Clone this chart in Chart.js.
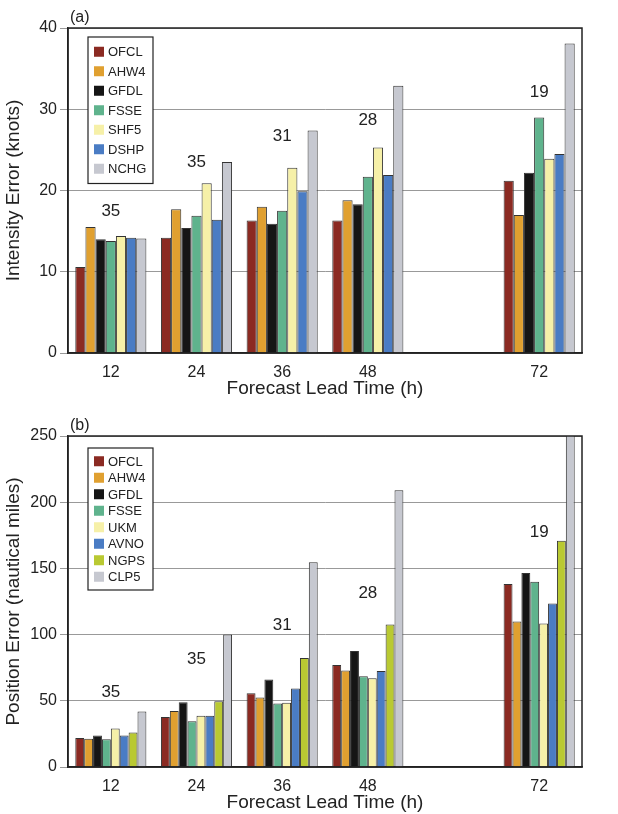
<!DOCTYPE html>
<html>
<head>
<meta charset="utf-8">
<script src="https://cdn.jsdelivr.net/npm/chart.js@4"></script>
<style>
  body { margin: 0; background: #fff; }
  .box { position: absolute; left: 0; width: 618px; }
</style>
</head>
<body>
<div class="box" style="top:0;height:400px"><canvas id="intChart"></canvas></div>
<div class="box" style="top:400px;height:414px"><canvas id="posChart"></canvas></div>
<script>
// Categories (lead time, 60 h is empty)
const leadTimes = ['12', '24', '36', '48', '', '72'];

// (a) intensity error, knots
const intOFCL = [10.6, 14.2, 16.3, 16.3, null, 21.2];
const intAHW4 = [15.5, 17.7, 18.0, 18.8, null, 17.0];
const intGFDL = [14.0, 15.4, 15.9, 18.3, null, 22.2];
const intFSSE = [13.8, 16.9, 17.5, 21.7, null, 29.0];
const intSHF5 = [14.4, 20.9, 22.8, 25.3, null, 23.9];
const intDSHP = [14.2, 16.4, 19.9, 21.9, null, 24.5];
const intNCHG = [14.1, 23.5, 27.4, 32.9, null, 38.1];

// (b) position error, nautical miles
const posOFCL = [21.9, 37.8, 55.7, 77.0, null, 138.3];
const posAHW4 = [21.4, 42.3, 52.4, 72.8, null, 109.8];
const posGFDL = [23.7, 48.9, 66.0, 87.7, null, 146.6];
const posFSSE = [20.9, 34.5, 47.9, 68.5, null, 140.0];
const posUKM  = [29.0, 38.8, 48.6, 67.0, null, 108.3];
const posAVNO = [23.7, 38.8, 59.2, 72.5, null, 123.4];
const posNGPS = [26.0, 49.6, 82.4, 107.6, null, 170.8];
const posCLP5 = [42.0, 100.0, 154.7, 209.0, null, 255.0];

// sample counts shown above each group
const caseCounts = ['35', '35', '31', '28', '', '19'];
const intCountY = [17.4, 23.5, 26.7, 28.6, null, 32.1];
const posCountY = [56.7, 81, 107, 131, null, 177.5];

const C = {
  OFCL: '#8b2a22', AHW4: '#e0a030', GFDL: '#151515', FSSE: '#5fb38d',
  SHF5: '#f6f0a8', DSHP: '#4a7cc4', NCHG: '#c6c8d0', NGPS: '#b9c932'
};
const FONT = 'Liberation Sans, Arial, sans-serif';

function ds(label, data, color) {
  return { label, data, backgroundColor: color, borderColor: '#333', borderWidth: 1,
           barPercentage: 1.0, categoryPercentage: 0.83 };
}

// legend box + counts + panel letter + frame
const extras = {
  id: 'extras',
  afterDraw(chart, args, opts) {
    const { ctx, chartArea: a, scales } = chart;
    ctx.save();
    ctx.strokeStyle = '#222';
    ctx.lineWidth = 1.5;
    ctx.strokeRect(a.left, a.top, a.right - a.left, a.bottom - a.top);
    ctx.fillStyle = '#222';
    ctx.font = '16px ' + FONT;
    ctx.textAlign = 'left';
    ctx.textBaseline = 'bottom';
    ctx.fillText(opts.letter, a.left + 2, a.top - 2);
    ctx.font = '17px ' + FONT;
    ctx.textAlign = 'center';
    ctx.textBaseline = 'middle';
    caseCounts.forEach((t, i) => {
      if (!t) return;
      ctx.fillText(t, scales.x.getPixelForValue(i), scales.y.getPixelForValue(opts.countY[i]));
    });
    // legend
    const lx = a.left + 20, ly = a.top + opts.legTop, n = chart.data.datasets.length;
    ctx.fillStyle = '#fff';
    ctx.fillRect(lx, ly, 65, opts.step * n + 10);
    ctx.lineWidth = 1.2;
    ctx.strokeRect(lx, ly, 65, opts.step * n + 10);
    ctx.font = '13px ' + FONT;
    ctx.textAlign = 'left';
    chart.data.datasets.forEach((d, i) => {
      const y = ly + 5 + opts.step * (i + 0.5);
      ctx.fillStyle = d.backgroundColor;
      ctx.fillRect(lx + 6, y - 5, 10, 10);
      ctx.fillStyle = '#222';
      ctx.fillText(d.label, lx + 20, y + 1);
    });
    ctx.restore();
  }
};

function makeChart(id, datasets, yMax, yStep, yTitle, padTop, plugOpts) {
  return new Chart(document.getElementById(id), {
    type: 'bar',
    data: { labels: leadTimes, datasets },
    plugins: [extras],
    options: {
      responsive: true, maintainAspectRatio: false, animation: false,
      layout: { padding: { top: padTop, right: 36, left: 0, bottom: 0 } },
      plugins: { legend: { display: false }, tooltip: { enabled: false }, extras: plugOpts },
      scales: {
        x: {
          grid: { display: false },
          border: { color: '#222', width: 1.5 },
          ticks: { color: '#222', font: { size: 16, family: FONT }, padding: 2 },
          title: { display: true, text: 'Forecast Lead Time (h)', color: '#222',
                   font: { size: 19, family: FONT }, padding: 0 },
          afterFit(s) { s.height = 47; }
        },
        y: {
          min: 0, max: yMax,
          grid: { color: '#999', lineWidth: 1 },
          border: { color: '#222', width: 1.5 },
          ticks: { stepSize: yStep, color: '#222', font: { size: 16, family: FONT } },
          title: { display: true, text: yTitle, color: '#222',
                   font: { size: 19, family: FONT }, padding: 2 },
          afterFit(s) { s.width = 68; }
        }
      }
    }
  });
}

makeChart('intChart', [
  ds('OFCL', intOFCL, C.OFCL), ds('AHW4', intAHW4, C.AHW4), ds('GFDL', intGFDL, C.GFDL),
  ds('FSSE', intFSSE, C.FSSE), ds('SHF5', intSHF5, C.SHF5), ds('DSHP', intDSHP, C.DSHP),
  ds('NCHG', intNCHG, C.NCHG)
], 40, 10, 'Intensity Error (knots)', 28,
  { letter: '(a)', countY: intCountY, legTop: 9, step: 19.5 });

makeChart('posChart', [
  ds('OFCL', posOFCL, C.OFCL), ds('AHW4', posAHW4, C.AHW4), ds('GFDL', posGFDL, C.GFDL),
  ds('FSSE', posFSSE, C.FSSE), ds('UKM', posUKM, C.SHF5), ds('AVNO', posAVNO, C.DSHP),
  ds('NGPS', posNGPS, C.NGPS), ds('CLP5', posCLP5, C.NCHG)
], 250, 50, 'Position Error (nautical miles)', 36,
  { letter: '(b)', countY: posCountY, legTop: 12, step: 16.5 });
</script>
</body>
</html>
